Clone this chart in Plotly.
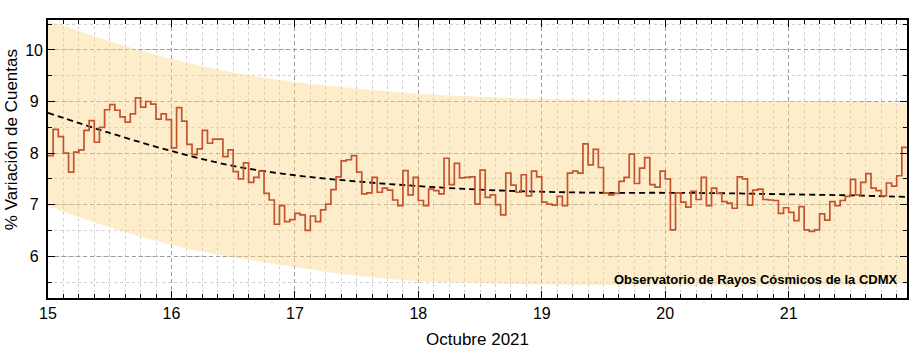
import pandas as pd
import plotly.graph_objects as go

# ---------------- data ----------------
start_time = "2021-10-15 00:00"
end_time = "2021-10-21 23:00"

# hourly % variation of counts, starting 2021-10-15 00:00
variation = [
    # Oct 15
    7.95, 8.46, 8.32, 8.00, 7.63, 8.02, 8.06, 8.44, 8.63, 8.21, 8.50, 8.84,
    8.94, 8.83, 8.70, 8.60, 8.76, 9.07, 8.89, 9.00, 8.95, 8.66, 8.76, 8.65,
    # Oct 16
    8.10, 8.88, 8.62, 8.17, 7.97, 8.08, 8.44, 8.19, 8.27, 8.27, 7.93, 8.06,
    7.64, 7.50, 7.81, 7.43, 7.53, 7.65, 7.22, 7.09, 6.62, 6.98, 6.67, 6.71,
    # Oct 17
    6.83, 6.80, 6.50, 6.78, 6.67, 6.90, 7.01, 7.29, 7.54, 7.85, 7.87, 7.95,
    7.63, 7.21, 7.23, 7.53, 7.24, 7.32, 7.28, 7.09, 6.98, 7.66, 7.19, 7.53,
    # Oct 18
    7.08, 6.98, 7.30, 7.27, 7.21, 7.90, 7.39, 7.80, 7.52, 7.53, 7.54, 7.01,
    7.67, 7.14, 7.19, 7.00, 6.80, 7.61, 7.38, 7.24, 7.58, 7.17, 7.65, 7.54,
    # Oct 19
    7.05, 7.01, 6.99, 7.16, 6.98, 7.61, 7.65, 7.61, 8.18, 7.77, 8.07, 7.72,
    7.23, 7.19, 7.22, 7.45, 7.53, 7.98, 7.41, 7.71, 7.91, 7.39, 7.34, 7.65,
    # Oct 20
    7.50, 6.51, 7.23, 7.05, 6.95, 7.26, 7.10, 7.53, 6.98, 7.32, 7.22, 7.06,
    7.03, 6.93, 7.54, 7.50, 6.99, 7.28, 7.30, 7.10, 7.09, 7.08, 6.83, 6.94,
    # Oct 21
    6.85, 6.69, 6.96, 6.51, 6.48, 6.51, 6.82, 6.70, 7.06, 6.98, 7.08, 7.16,
    7.49, 7.19, 7.43, 7.60, 7.32, 7.27, 7.17, 7.42, 7.36, 7.56, 8.11,
]

# trend (dashed) and band, every 12 h plus the end of the window
trend = [8.78, 8.39, 8.04, 7.75, 7.57, 7.45, 7.36, 7.29, 7.25, 7.23,
         7.23, 7.22, 7.20, 7.18, 7.15]
band_upper = [10.57, 10.17, 9.83, 9.56, 9.38, 9.25, 9.15, 9.09, 9.05, 9.03,
              9.02, 9.01, 9.01, 9.00, 8.97]
band_lower = [6.97, 6.56, 6.22, 5.98, 5.79, 5.62, 5.52, 5.48, 5.45, 5.44,
              5.43, 5.43, 5.43, 5.44, 5.49]

y_tickvals = [6, 7, 8, 9, 10]
y_ticktext = ["6\u00a0", "7\u00a0", "8\u00a0", "9\u00a0", "10"]

x_title = "Octubre 2021"
y_title = "% Variación de Cuentas"
credit = "Observatorio de Rayos Cósmicos de la CDMX"

# ---------------- build ----------------
t_end = pd.Timestamp(end_time)
t_hours = list(pd.date_range(start_time, periods=len(variation), freq="h"))
x_step = t_hours + [t_end]
y_step = variation + [variation[-1]]

t_trend = list(pd.date_range(start_time, periods=len(trend) - 1, freq="12h")) + [t_end]

FONT = "Liberation Sans, Arial, sans-serif"

fig = go.Figure()
fig.add_trace(go.Scatter(x=t_trend, y=band_lower, mode="lines",
                         line=dict(width=0, shape="spline"),
                         hoverinfo="skip", showlegend=False))
fig.add_trace(go.Scatter(x=t_trend, y=band_upper, mode="lines",
                         line=dict(width=0, shape="spline"),
                         fill="tonexty", fillcolor="rgba(250,214,140,0.45)",
                         hoverinfo="skip", showlegend=False))
fig.add_trace(go.Scatter(x=t_trend, y=trend, mode="lines",
                         line=dict(color="black", width=1.8, dash="6px,4px",
                                   shape="spline"),
                         showlegend=False))
fig.add_trace(go.Scatter(x=x_step, y=y_step, mode="lines",
                         line=dict(color="#C4532E", width=1.7, shape="hv"),
                         showlegend=False))

grid_major = dict(showgrid=True, gridcolor="#9c9c9c", gridwidth=1,
                  griddash="4px,3px")
fig.update_xaxes(
    type="date", range=[pd.Timestamp(start_time), t_end],
    tick0=start_time, dtick=86400000, tickformat="%-d",
    ticks="inside", ticklen=7, tickwidth=1.3, tickcolor="black",
    showline=True, linecolor="black", linewidth=1.6, mirror="allticks",
    tickfont=dict(family=FONT, size=16, color="black"),
    zeroline=False,
    minor=dict(dtick=3 * 3600000, ticks="inside", ticklen=4, tickwidth=1,
               tickcolor="black", showgrid=True, gridcolor="#d0d0d0",
               griddash="dot", gridwidth=1),
    **grid_major,
)
fig.update_yaxes(
    range=[5.19, 10.58], tickmode="array", tickvals=y_tickvals,
    ticktext=y_ticktext,
    ticks="inside", ticklen=7, tickwidth=1.3, tickcolor="black",
    showline=True, linecolor="black", linewidth=1.6, mirror="allticks",
    tickfont=dict(family=FONT, size=16, color="black"),
    zeroline=False,
    minor=dict(tickmode="linear", tick0=0, dtick=0.5, ticks="inside",
               ticklen=4, tickwidth=1, tickcolor="black", showgrid=True,
               gridcolor="#d0d0d0", griddash="dot", gridwidth=1),
    **grid_major,
)

fig.add_annotation(text=y_title, textangle=-90, xref="paper", yref="paper",
                   x=-0.043, y=0.568, xanchor="center", yanchor="middle",
                   showarrow=False,
                   font=dict(family=FONT, size=17, color="black"))
fig.add_annotation(text=x_title, xref="paper", yref="paper",
                   x=0.5, y=-0.151, xanchor="center", yanchor="middle",
                   showarrow=False,
                   font=dict(family=FONT, size=17, color="black"))
fig.add_annotation(text="<b>" + credit + "</b>", xref="paper", yref="paper",
                   x=1, xshift=-7, y=0.068, xanchor="right", yanchor="middle",
                   showarrow=False,
                   font=dict(family=FONT, size=13, color="black"))

fig.update_layout(
    width=921, height=352,
    margin=dict(l=48, r=12, t=20, b=54, pad=0),
    paper_bgcolor="white", plot_bgcolor="white",
    showlegend=False,
)

fig.write_html("out.html")
